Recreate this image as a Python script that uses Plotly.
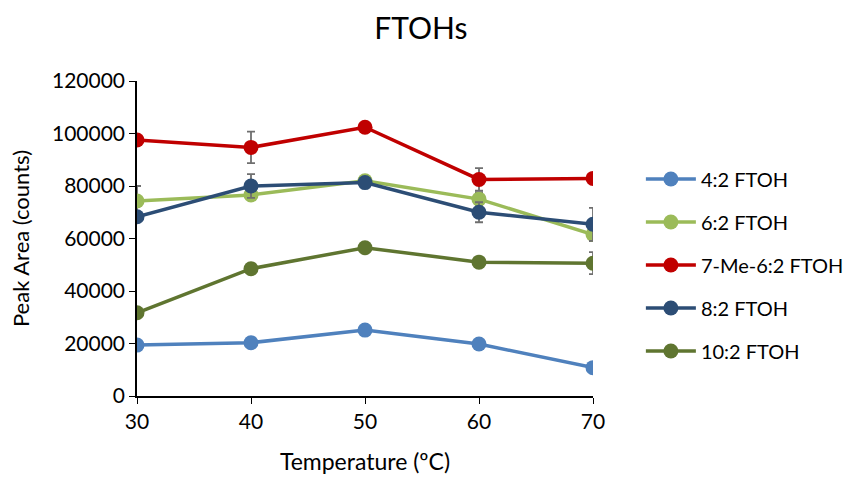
import plotly.graph_objects as go

temps = [30, 40, 50, 60, 70]
names = ["4:2 FTOH", "6:2 FTOH", "7-Me-6:2 FTOH", "8:2 FTOH", "10:2 FTOH"]
colors = ["#4f81bd", "#9bbb59", "#c00000", "#2c4d75", "#5f7530"]

v_42 = [19400, 20300, 25100, 19800, 10800]
v_62 = [74300, 76600, 82000, 75000, 61500]
v_7me = [97500, 94700, 102400, 82500, 82900]
v_82 = [68300, 80000, 81300, 70000, 65400]
v_102 = [31700, 48500, 56500, 51000, 50600]

e_42 = [0, 0, 0, 0, 0]
e_62 = [5700, 0, 1800, 2600, 2500]
e_7me = [0, 6000, 0, 4300, 0]
e_82 = [0, 4500, 0, 3800, 6300]
e_102 = [0, 0, 0, 0, 4200]

values = [v_42, v_62, v_7me, v_82, v_102]
errors = [e_42, e_62, e_7me, e_82, e_102]

fig = go.Figure()
for i, (n, c, v, e) in enumerate(zip(names, colors, values, errors)):
    fig.add_trace(go.Scatter(
        x=temps, y=v, name=n, mode="lines+markers",
        line=dict(color=c, width=3.5),
        marker=dict(color=c, size=15),
        error_y=dict(type="data", array=e, visible=True, color="#6f6f6f",
                     thickness=1.8, width=4),
        legendgroup=str(i),
    ))

font = "Lato, 'Open Sans', sans-serif"
fig.update_layout(
    width=859, height=478,
    margin=dict(l=137, r=266, t=81, b=82, autoexpand=False),
    paper_bgcolor="white", plot_bgcolor="white",
    font=dict(family=font, size=22, color="#000000"),
    title=dict(text="FTOHs", x=0.49, xanchor="center", xref="container",
               y=0.94, yanchor="middle", font=dict(size=30)),
    xaxis=dict(range=[30, 70], tickvals=temps, showline=True, linecolor="black",
               linewidth=1.5, ticks="outside", ticklen=6, tickcolor="black",
               showgrid=False, zeroline=False, tickfont=dict(size=21),
               title=dict(text="Temperature (ºC)", font=dict(size=23), standoff=22)),
    yaxis=dict(range=[0, 120000], dtick=20000, tickformat="d", showline=True,
               linecolor="black", linewidth=1.5, ticks="outside", ticklen=6,
               tickcolor="black", showgrid=False, zeroline=False,
               tickfont=dict(size=21),
               title=dict(text="Peak Area (counts)", font=dict(size=22), standoff=16)),
    legend=dict(x=1.105, xanchor="left", y=0.416, yanchor="middle",
                traceorder="grouped", tracegroupgap=14, itemwidth=50,
                font=dict(size=20), bgcolor="rgba(0,0,0,0)"),
)
fig.write_html("out.html")
